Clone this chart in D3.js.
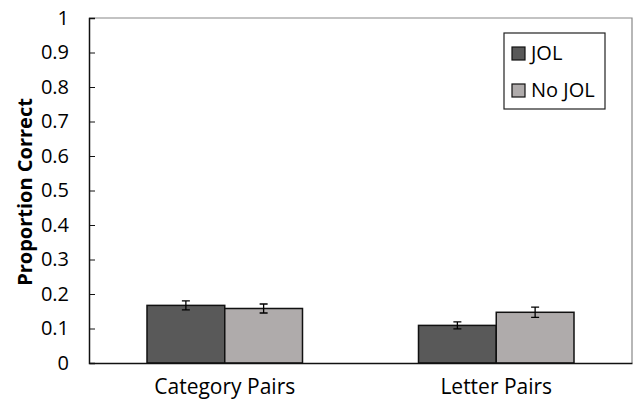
<!DOCTYPE html>
<html lang="en">
<head>
   <meta charset="UTF-8">
   <title>Proportion Correct</title>
   <script src="https://cdn.jsdelivr.net/npm/d3@7/dist/d3.min.js"></script>
   <style>
      body { margin: 0; background: white; }
      text { font-family: "Open Sans", sans-serif; fill: #000; }
   </style>
</head>
<body>
   <svg id="chart" width="633" height="402"></svg>
   <script>
      // data
      const categories = ['Category Pairs', 'Letter Pairs']
      const series = ['JOL', 'No JOL']
      const colors = ['#595959', '#afabab']
      const jolValues = [0.167, 0.109]
      const noJolValues = [0.158, 0.147]
      const jolErrors = [0.013, 0.010]
      const noJolErrors = [0.013, 0.015]
      const yTicks = [0, 0.1, 0.2, 0.3, 0.4, 0.5, 0.6, 0.7, 0.8, 0.9, 1]

      const values = [jolValues, noJolValues]
      const errors = [jolErrors, noJolErrors]

      const svg = d3.select('#chart')
      const margin = { top: 18, right: 1, bottom: 39, left: 89 }
      const W = +svg.attr('width') - margin.left - margin.right
      const H = +svg.attr('height') - margin.top - margin.bottom

      const g = svg.append('g')
         .attr('transform', `translate(${margin.left},${margin.top})`)

      const x = d3.scaleBand().domain(categories).range([0, W]).paddingInner(0).paddingOuter(0)
      const xs = d3.scaleBand().domain(series).range([58, x.bandwidth() - 58])
      const y = d3.scaleLinear().domain([0, 1]).range([H, 0])

      // frame
      g.append('path')
         .attr('d', `M0,0H${W}V${H}`)
         .attr('fill', 'none')
         .attr('stroke', '#888')
         .attr('stroke-width', 1.2)

      // bars
      categories.forEach((c, i) => {
         series.forEach((s, j) => {
            const bx = x(c) + xs(s)
            g.append('rect')
               .attr('x', bx)
               .attr('y', y(values[j][i]))
               .attr('width', xs.bandwidth())
               .attr('height', y(0) - y(values[j][i]))
               .attr('fill', colors[j])
               .attr('stroke', '#111')
               .attr('stroke-width', 1.5)

            const cx = bx + xs.bandwidth() / 2
            const lo = y(values[j][i] - errors[j][i])
            const hi = y(values[j][i] + errors[j][i])
            g.append('path')
               .attr('d', `M${cx},${lo}V${hi}M${cx - 4},${lo}H${cx + 4}M${cx - 4},${hi}H${cx + 4}`)
               .attr('stroke', '#000')
               .attr('stroke-width', 1.3)
               .attr('fill', 'none')
         })
      })

      // y axis
      const yAxis = g.append('g')
         .call(d3.axisLeft(y).tickValues(yTicks).tickSize(-6).tickPadding(20).tickFormat(d3.format('')))
      yAxis.select('.domain').attr('stroke', '#111').attr('stroke-width', 1.5)
      yAxis.selectAll('.tick line').attr('stroke', '#111')
      yAxis.selectAll('.tick text').attr('font-size', 20).attr('font-family', '"Open Sans", sans-serif')

      // x axis
      const xAxis = g.append('g')
         .attr('transform', `translate(0,${H})`)
         .call(d3.axisBottom(x).tickSize(0).tickPadding(16))
      xAxis.select('.domain').attr('stroke', '#111').attr('stroke-width', 1.3)
      xAxis.selectAll('.tick text').attr('font-size', 21).attr('font-family', '"Open Sans", sans-serif')

      // y title
      svg.append('text')
         .attr('transform', 'translate(32,192) rotate(-90)')
         .attr('text-anchor', 'middle')
         .attr('font-size', 20)
         .attr('font-weight', 'bold')
         .text('Proportion Correct')

      // legend
      const legend = svg.append('g').attr('transform', 'translate(504,33)')
      legend.append('rect')
         .attr('width', 101).attr('height', 76)
         .attr('fill', 'white').attr('stroke', '#222').attr('stroke-width', 1.2)
      series.forEach((s, j) => {
         const row = legend.append('g').attr('transform', `translate(8,${14 + j * 37})`)
         row.append('rect')
            .attr('width', 13).attr('height', 13)
            .attr('fill', colors[j]).attr('stroke', '#111').attr('stroke-width', 1.2)
         row.append('text')
            .attr('x', 19).attr('y', 13)
            .attr('font-size', 20)
            .text(s)
      })
   </script>
</body>
</html>
